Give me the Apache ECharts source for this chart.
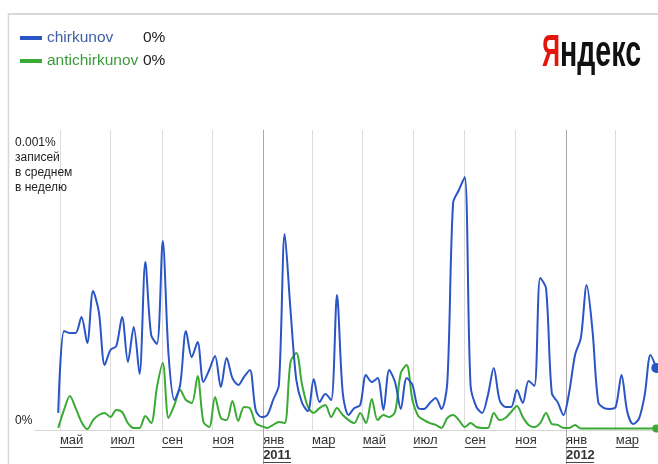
<!DOCTYPE html>
<html><head><meta charset="utf-8">
<script src="https://cdn.jsdelivr.net/npm/echarts@6/dist/echarts.min.js"></script>
<style>html,body{margin:0;padding:0;background:#fff}#c{width:658px;height:464px}</style>
</head><body><div id="c"></div>
<script>
// first weekly point (year, monthIndex, day)
const weekStart = [2010, 3, 29];

// weekly values, units: 1 = 0.00001 % (100 = 0.001 %)
const chirkunov = [
  5.7, 33, 32.3, 32.3, 37.7, 29, 46.3, 39.3, 21.7, 26.7,
  28, 37.7, 22.7, 34.3, 18.7, 56, 31.7, 28.7, 63, 25,
  10, 15, 33, 24.3, 29.3, 16, 20, 24.7, 14.3, 24,
  17.3, 15, 17.7, 20, 6.7, 4.3, 5, 10, 15, 65.3,
  40, 16.7, 9, 6.3, 17, 9.3, 12, 10, 45, 12.3,
  5, 7.3, 8.3, 18.3, 16, 17.3, 6.7, 20, 16, 7,
  17.3, 15, 7.3, 7, 9, 10.7, 7, 15.7, 75.7, 80,
  84.3, 15, 7.7, 5.7, 11.7, 20.7, 10, 7.7, 7.7, 13.3,
  9, 16.3, 14.7, 50.7, 47.3, 12.3, 9.3, 5, 12.7, 25,
  30.7, 48.3, 33.3, 9.3, 7.3, 7, 7.7, 18.3, 6, 2,
  3.7, 11.7, 25, 20.7
];
const antichirkunov = [
  0.7, 6.7, 11.3, 7.3, 2.7, 0.3, 3.3, 5, 5.7, 4.3,
  6.7, 6, 2.3, 0.7, 0.7, 4.7, 2.3, 14.3, 22.3, 4,
  8.3, 13.3, 10, 9, 18, 2.7, 1, 11, 4, 3.3,
  9.7, 3, 7.7, 7.3, 2.3, 1.3, 0.7, 1.7, 2.7, 2.3,
  22.7, 25.7, 15, 7.7, 5.7, 7.3, 8.3, 4.3, 7.3, 5,
  3.3, 2.3, 5.7, 2.3, 10.3, 3.3, 5, 4.3, 6, 19,
  21.7, 10, 4.7, 3.3, 2.3, 1.7, 0.7, 4, 5, 3.3,
  1, 2.3, 1, 0.7, 0.7, 5.7, 3.3, 4, 6, 8,
  4.3, 1.7, 1, 2.3, 5.7, 2, 1.7, 0.7, 0.7, 1.7,
  0.5, 0.5, 0.5, 0.5, 0.5, 0.5, 0.5, 0.5, 0.5, 0.5,
  0.5, 0.5, 0.5, 0.5
];

const seriesNames = ['chirkunov', 'antichirkunov'];
const legendValues = ['0%', '0%'];
const tickDates = ['2010-05-01','2010-07-01','2010-09-01','2010-11-01','2011-01-01','2011-03-01',
                   '2011-05-01','2011-07-01','2011-09-01','2011-11-01','2012-01-01','2012-03-01'];
const yearTickDates = ['2011-01-01','2012-01-01'];
const monthNames = ['янв','фев','мар','апр','май','июн','июл','авг','сен','окт','ноя','дек'];
const yTopLabel = ['0.001%','записей','в среднем','в неделю'];
const yZeroLabel = '0%';
const axisRange = ['2010-04-01', '2012-04-21'];
const logoParts = ['Я', 'ндекс'];

function toTs(s){ const p = s.split('-'); return new Date(+p[0], +p[1]-1, +p[2]).getTime(); }
const weekDates = chirkunov.map((_, i) => new Date(weekStart[0], weekStart[1], weekStart[2] + 7 * i).getTime());

const FONT = 'Arial, "Liberation Sans", sans-serif';
const ctx = document.createElement('canvas').getContext('2d');
function textW(t, font){ ctx.font = font; return ctx.measureText(t).width; }

const xRich = {
  m: { fontSize: 13, lineHeight: 13, color: '#333', fontFamily: FONT },
  y: { fontSize: 13, lineHeight: 14, fontWeight: 'bold', color: '#333', fontFamily: FONT },
  uy: { width: Math.round(textW('2011', 'bold 13px ' + FONT)), height: 1, lineHeight: 1, fontSize: 1, backgroundColor: '#444' }
};
monthNames.forEach((m, i) => {
  xRich['u' + i] = { width: Math.round(textW(m, '13px ' + FONT)), height: 1, lineHeight: 1, fontSize: 1, backgroundColor: '#444' };
});

function lastSymbol(arr, size) {
  return arr.map((v, i) => i === arr.length - 1
    ? { value: [weekDates[i], v], symbol: 'circle', symbolSize: size }
    : [weekDates[i], v]);
}

const LOGO_R = 'bold 44px ' + FONT, LOGO_K = 'bold 45px ' + FONT;

const chart = echarts.init(document.getElementById('c'), null, { renderer: 'canvas' });
chart.setOption({
  animation: false,
  backgroundColor: '#fff',
  grid: { left: 35, right: 0, top: 130, bottom: 34, outerBoundsMode: 'none', containLabel: false },
  legend: {
    orient: 'vertical', left: 15, top: 24, itemWidth: 22, itemHeight: 4, itemGap: 5,
    icon: 'rect', selectedMode: false,
    textStyle: { fontFamily: FONT, fontSize: 15.5, lineHeight: 18,
      rich: { n: { width: 96, fontSize: 15.5 }, v: { color: '#222', fontSize: 15.5 } } },
    formatter: name => '{n|' + name + '}{v|' + legendValues[seriesNames.indexOf(name)] + '}',
    data: [
      { name: seriesNames[0], textStyle: { color: '#3d5da6' } },
      { name: seriesNames[1], textStyle: { color: '#3a9a3a' } }
    ]
  },
  xAxis: [{
    type: 'value', min: toTs(axisRange[0]), max: toTs(axisRange[1]),
    axisLine: { show: true, lineStyle: { color: '#d6d6d6', width: 1 } },
    axisTick: { show: false, customValues: tickDates.map(toTs) },
    splitLine: { show: true, lineStyle: { color: '#dcdcdc', width: 1 } },
    axisLabel: {
      customValues: tickDates.map(toTs), align: 'left', margin: 4, fontFamily: FONT,
      hideOverlap: false, showMinLabel: true, showMaxLabel: true,
      formatter: v => {
        const d = new Date(v), mi = d.getMonth();
        let s = '{m|' + monthNames[mi] + '}\n{u' + mi + '| }';
        if (mi === 0) s += '\n{y|' + d.getFullYear() + '}\n{uy| }';
        return s;
      },
      rich: xRich
    }
  }, {
    type: 'value', min: toTs(axisRange[0]), max: toTs(axisRange[1]), position: 'bottom',
    axisLine: { show: false },
    axisTick: { show: true, inside: false, length: 34, customValues: yearTickDates.map(toTs), lineStyle: { color: '#a8a8a8', width: 1 } },
    splitLine: { show: true, lineStyle: { color: '#a8a8a8', width: 1 } },
    axisLabel: { show: false, customValues: yearTickDates.map(toTs) }
  }],
  yAxis: {
    type: 'value', min: 0, max: 100, interval: 100,
    axisLine: { show: false }, axisTick: { show: false }, splitLine: { show: false },
    axisLabel: {
      align: 'left', margin: 20, fontFamily: FONT, color: '#222', fontSize: 12,
      formatter: v => v === 0
        ? '{t|' + yZeroLabel + '}\n{sz| }'
        : '{st| }\n' + yTopLabel.map(t => '{t|' + t + '}').join('\n'),
      rich: {
        t: { fontSize: 12, lineHeight: 15, color: '#222', fontFamily: FONT },
        st: { fontSize: 1, lineHeight: 71, height: 71 },
        sz: { fontSize: 1, lineHeight: 19, height: 19 }
      }
    }
  },
  series: [{
    name: seriesNames[0], type: 'line', smooth: 0.3, symbol: 'none', showSymbol: true,
    color: '#2a55c4',
    lineStyle: { color: '#2a55c4', width: 2 },
    itemStyle: { color: '#2a55c4' },
    data: lastSymbol(chirkunov, 10), z: 3
  }, {
    name: seriesNames[1], type: 'line', smooth: 0.3, symbol: 'none', showSymbol: true,
    color: '#3aaa35',
    lineStyle: { color: '#3aaa35', width: 2 },
    itemStyle: { color: '#3aaa35' },
    data: lastSymbol(antichirkunov, 8), z: 2
  }],
  graphic: [
    { type: 'line', shape: { x1: 8, y1: 14, x2: 658, y2: 14 }, style: { stroke: '#d8d8d8', lineWidth: 2 } },
    { type: 'line', shape: { x1: 8.5, y1: 13, x2: 8.5, y2: 464 }, style: { stroke: '#d8d8d8', lineWidth: 1.5 } },
    { type: 'text', x: 542, y: 76, scaleX: 18 / textW(logoParts[0], LOGO_R),
      style: { text: logoParts[0], font: LOGO_R, fill: '#e4160c', verticalAlign: 'bottom', align: 'left' } },
    { type: 'text', x: 560, y: 76, scaleX: 81 / textW(logoParts[1], LOGO_K),
      style: { text: logoParts[1], font: LOGO_K, fill: '#111', verticalAlign: 'bottom', align: 'left' } }
  ]
});
</script></body></html>
